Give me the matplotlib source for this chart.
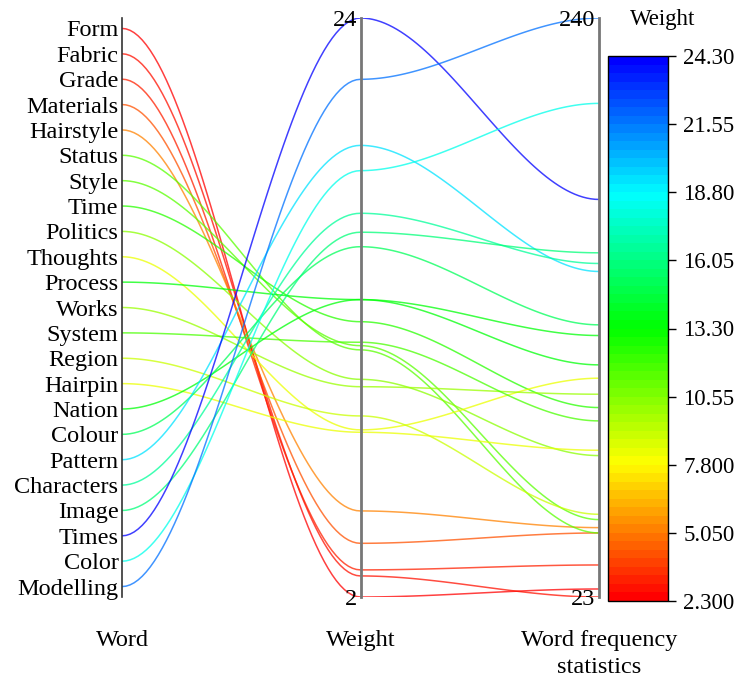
import numpy as np
import matplotlib
matplotlib.use("Agg")
from matplotlib import pyplot as plt
from matplotlib import colors as mcolors
from matplotlib import cm

plt.rcParams['font.family'] = ['Liberation Serif', 'DejaVu Serif']

# data
words = ["Form", "Fabric", "Grade", "Materials", "Hairstyle", "Status", "Style",
         "Time", "Politics", "Thoughts", "Process", "Works", "System", "Region",
         "Hairpin", "Nation", "Colour", "Pattern", "Characters", "Image",
         "Times", "Color", "Modelling"]
weights = [2.0, 2.8, 3.03, 4.04, 5.27, 11.39, 11.55,
           12.46, 10.27, 8.35, 13.3, 9.99, 11.68, 8.88,
           8.26, 13.3, 15.31, 19.16, 16.58, 15.86,
           24.0, 18.2, 21.67]
freqs = [26, 23, 35, 47, 49, 47, 52,
         94, 76, 105, 121, 99, 89, 54,
         78, 110, 125, 145, 148, 152,
         172, 208, 240]
axis_names = ["Word", "Weight", "Word frequency\nstatistics"]
weight_range = [2, 24]
freq_range = [23, 240]
color_range = [2.3, 24.3]

W, H = 737, 682
fig = plt.figure(figsize=(W / 100, H / 100), dpi=100)

# main area, x = axis index, y = normalised 0..1
ax = fig.add_axes([122 / W, (H - 597) / H, 477 / W, 579 / H])
ax.set_xlim(0, 2)
ax.set_ylim(0, 1)
ax.axis('off')

# colour scale: hue red -> blue, stepped
n_steps = 64
hues = np.linspace(0, 2 / 3, n_steps)
cmap = mcolors.ListedColormap([mcolors.hsv_to_rgb((h, 1, 1)) for h in hues])
norm = mcolors.Normalize(color_range[0], color_range[1])

n = len(words)
pad = 0.018  # gap at the ends of the category axis
word_pos = 1 - pad - np.arange(n) * (1 - 2 * pad) / (n - 1)

s = np.linspace(0, 1, 60)
ease = 3 * s ** 2 - 2 * s ** 3
for i in range(n):
    ys = [word_pos[i],
          (weights[i] - weight_range[0]) / (weight_range[1] - weight_range[0]),
          (freqs[i] - freq_range[0]) / (freq_range[1] - freq_range[0])]
    col = cmap(norm(weights[i]))
    for j in range(2):
        xx = j + s
        yy = ys[j] + (ys[j + 1] - ys[j]) * ease
        ax.plot(xx, yy, color=col, lw=1.1, alpha=0.75, solid_capstyle='butt')

# the three vertical axes
ax.plot([0, 0], [0, 1], color='#333333', lw=1.2, clip_on=False)
ax.plot([1, 1], [0, 1], color='#777777', lw=2, clip_on=False)
ax.plot([2, 2], [0, 1], color='#777777', lw=2, clip_on=False)

fs = 17.5
for i, w in enumerate(words):
    ax.text(-0.015, word_pos[i], w, ha='right', va='center_baseline', fontsize=fs)

ax.text(0.985, 1, str(weight_range[1]), ha='right', va='center_baseline', fontsize=fs)
ax.text(0.985, 0, str(weight_range[0]), ha='right', va='center_baseline', fontsize=fs)
ax.text(1.985, 1, str(freq_range[1]), ha='right', va='center_baseline', fontsize=fs)
ax.text(1.985, 0, str(freq_range[0]), ha='right', va='center_baseline', fontsize=fs)

for j, name in enumerate(axis_names):
    ax.text(j, -0.057, name, ha='center', va='top', fontsize=fs, linespacing=1.4)

# colour bar
cax = fig.add_axes([608 / W, (H - 601) / H, 60 / W, 545 / H])
sm = cm.ScalarMappable(norm=norm, cmap=cmap)
cb = fig.colorbar(sm, cax=cax)
ticks = np.linspace(color_range[0], color_range[1], 9)
cb.set_ticks(ticks)
cb.set_ticklabels([f"{t:#.4g}" for t in ticks])
cb.outline.set_linewidth(1)
cax.tick_params(direction='out', length=6, width=1, labelsize=16.5, pad=5)
fig.text(663 / W, 1 - 20 / H, "Weight", ha='center', va='center', fontsize=16.5)

fig.savefig("out.png", dpi=100)
